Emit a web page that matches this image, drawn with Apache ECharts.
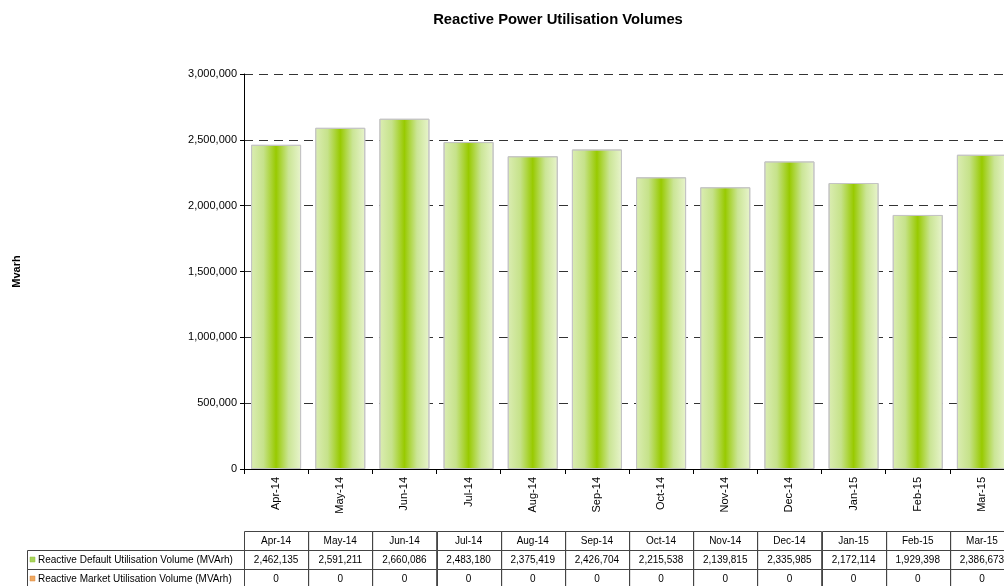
<!DOCTYPE html>
<html>
<head>
<meta charset="utf-8">
<script src="https://cdn.jsdelivr.net/npm/echarts@6/dist/echarts.min.js"></script>
<style>html,body{margin:0;padding:0;background:#fff}#c{width:1004px;height:586px}</style>
</head>
<body>
<div id="c"></div>
<script>
var categories = ['Apr-14','May-14','Jun-14','Jul-14','Aug-14','Sep-14','Oct-14','Nov-14','Dec-14','Jan-15','Feb-15','Mar-15'];
var defaultVolumes = [2462135,2591211,2660086,2483180,2375419,2426704,2215538,2139815,2335985,2172114,1929398,2386673];
var marketVolumes = [0,0,0,0,0,0,0,0,0,0,0,0];
var seriesNames = ['Reactive Default Utilisation Volume (MVArh)','Reactive Market Utilisation Volume (MVArh)'];
var yTicks = [0,500000,1000000,1500000,2000000,2500000,3000000];

function fmt(v){return String(v).replace(/\B(?=(\d{3})+(?!\d))/g, ',');}

var FONT = '"Liberation Sans", Arial, sans-serif';
var chart = echarts.init(document.getElementById('c'), null, {renderer:'canvas'});
var green = {type:'linear',x:0,y:0,x2:1,y2:0,colorStops:[
  {offset:0,color:'#dbedb3'},{offset:0.25,color:'#c6e28a'},{offset:0.5,color:'#98ca00'},
  {offset:0.75,color:'#cbe596'},{offset:1,color:'#e8f4cd'}]};

chart.setOption({
  animation:false,
  backgroundColor:'#ffffff',
  title:{text:'Reactive Power Utilisation Volumes',left:553,top:7,textAlign:'center',
    textStyle:{fontFamily:FONT,fontSize:14.8,fontWeight:'bold',color:'#000'}},
  grid:{left:244,top:74,bottom:117,right:-10,containLabel:false,outerBoundsMode:'none'},
  xAxis:{type:'category',data:categories,
    axisLine:{lineStyle:{color:'#000',width:1}},
    axisTick:{show:true,length:5,lineStyle:{color:'#000'}},
    axisLabel:{rotate:90,margin:8,fontFamily:FONT,fontSize:11,color:'#000'},
    splitLine:{show:false}},
  yAxis:{type:'value',min:yTicks[0],max:yTicks[yTicks.length-1],interval:yTicks[1]-yTicks[0],
    name:'Mvarh',nameLocation:'middle',nameGap:222,nameRotate:90,
    nameTextStyle:{fontFamily:FONT,fontSize:11,fontWeight:'bold',color:'#000'},
    axisLine:{show:true,lineStyle:{color:'#000',width:1}},
    axisTick:{show:true,length:4,lineStyle:{color:'#000'}},
    axisLabel:{margin:7,fontFamily:FONT,fontSize:11,color:'#000',formatter:function(v){return fmt(v);}},
    splitLine:{show:true,lineStyle:{color:'#333',type:[9,6],width:1}}},
  series:[
    {name:seriesNames[0],type:'bar',stack:'s',data:defaultVolumes,barCategoryGap:'22%',
      itemStyle:{color:green,borderColor:'#c4c4c4',borderWidth:1}},
    {name:seriesNames[1],type:'bar',stack:'s',data:marketVolumes,
      itemStyle:{color:'#f0a860'}}
  ]
});

// data table under the chart, columns aligned to the category axis
(function(){
  var c0 = chart.convertToPixel({xAxisIndex:0}, 0);
  var c1 = chart.convertToPixel({xAxisIndex:0}, 1);
  var w = c1 - c0;
  var rowTop = 531, rowH = 19, labelLeft = 27;
  var els = [];
  var rows = [categories, defaultVolumes.map(fmt), marketVolumes.map(fmt)];
  for (var r=0;r<3;r++){
    var y = rowTop + r*rowH;
    for (var i=0;i<categories.length;i++){
      var cx = chart.convertToPixel({xAxisIndex:0}, i);
      var x = Math.round(cx - w/2)+0.5;
      els.push({type:'rect',shape:{x:x,y:y+0.5,width:w,height:rowH},style:{fill:'none',stroke:'#444',lineWidth:1},silent:true});
      els.push({type:'text',style:{text:rows[r][i],x:cx,y:y+rowH/2+1,textAlign:'center',textVerticalAlign:'middle',
        font:'10px '+FONT,fill:'#000'},silent:true});
    }
    if (r>0){
      var left0 = Math.round(c0 - w/2)+0.5;
      els.push({type:'rect',shape:{x:labelLeft+0.5,y:y+0.5,width:left0-labelLeft-0.5,height:rowH},style:{fill:'none',stroke:'#444',lineWidth:1},silent:true});
      els.push({type:'rect',shape:{x:labelLeft+3,y:y+rowH/2-2.5,width:5,height:5},
        style:{fill:r===1?'#a8d45a':'#f0a860',stroke:r===1?'#8fbf3a':'#d98a40',lineWidth:0.5},silent:true});
      els.push({type:'text',style:{text:seriesNames[r-1],x:labelLeft+11,y:y+rowH/2+1,textAlign:'left',textVerticalAlign:'middle',
        font:'10px '+FONT,fill:'#000'},silent:true});
    }
  }
  chart.setOption({graphic:{elements:els}});
})();
</script>
</body>
</html>
